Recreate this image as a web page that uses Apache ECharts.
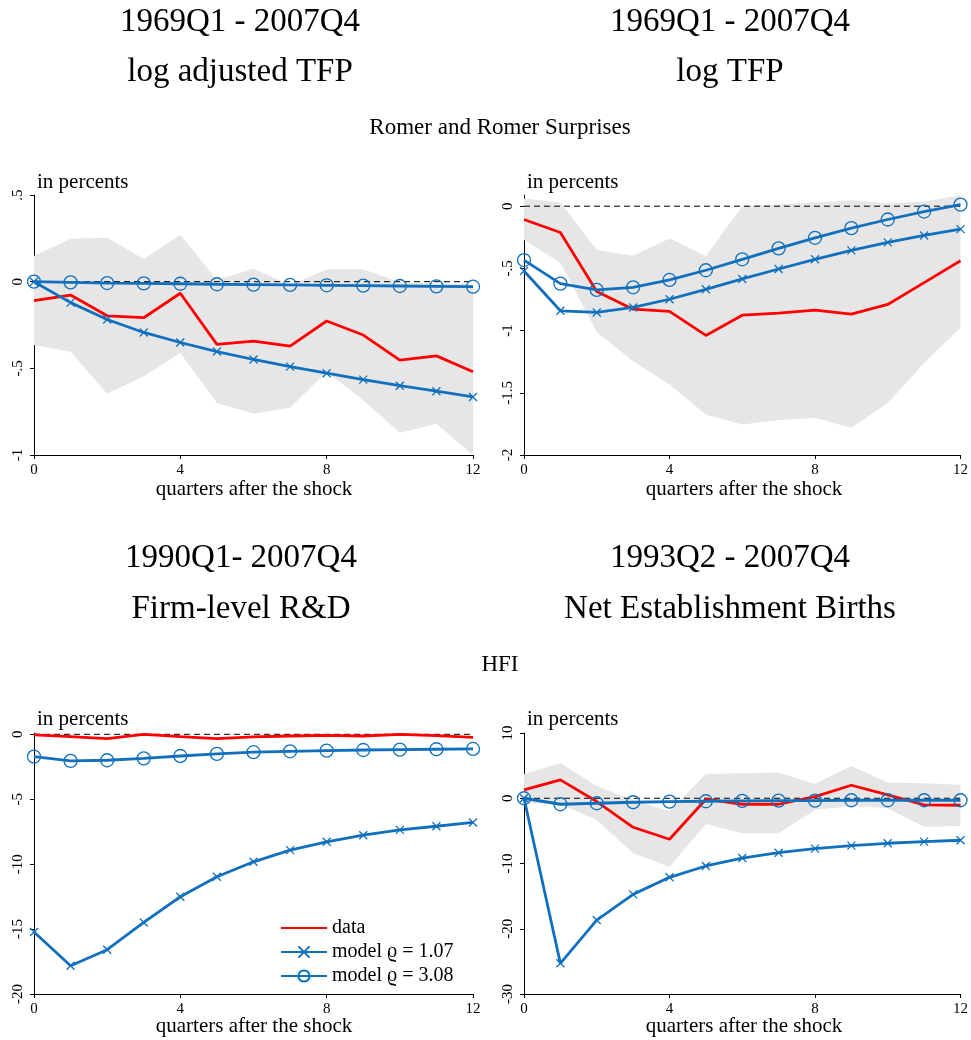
<!DOCTYPE html>
<html>
<head>
<meta charset="utf-8">
<script src="https://cdn.jsdelivr.net/npm/echarts@6/dist/echarts.min.js"></script>
<style>
  html, body { margin: 0; padding: 0; background: #fff; }
  #chart { width: 971px; height: 1040px; }
</style>
</head>
<body>
<div id="chart"></div>
<script>
// Horizon: quarters after the shock
const quarters = [0, 1, 2, 3, 4, 5, 6, 7, 8, 9, 10, 11, 12];
const xTicks = [0, 4, 8, 12];

// Log adjusted TFP, Romer and Romer surprises (1969Q1 - 2007Q4)
const adjTfpData   = [-0.11, -0.077, -0.197, -0.208, -0.067, -0.362, -0.343, -0.372, -0.227, -0.308, -0.453, -0.428, -0.52];
const adjTfpRho107 = [0, -0.121, -0.218, -0.293, -0.351, -0.403, -0.449, -0.49, -0.528, -0.565, -0.6, -0.632, -0.665];
const adjTfpRho308 = [0, -0.004, -0.008, -0.01, -0.012, -0.015, -0.017, -0.019, -0.021, -0.023, -0.025, -0.027, -0.029];
const adjTfpUpper  = [0.148, 0.247, 0.253, 0.131, 0.27, 0.01, 0.075, -0.02, 0.071, 0.071, -0.005, -0.01, -0.015];
const adjTfpLower  = [-0.366, -0.405, -0.646, -0.546, -0.411, -0.7, -0.762, -0.727, -0.52, -0.684, -0.871, -0.819, -1.0];
const adjTfpTicks  = [-1, -0.5, 0, 0.5];

// Log TFP, Romer and Romer surprises (1969Q1 - 2007Q4)
const tfpData   = [-0.107, -0.211, -0.686, -0.828, -0.846, -1.039, -0.876, -0.86, -0.836, -0.868, -0.79, -0.614, -0.438];
const tfpRho107 = [-0.521, -0.841, -0.854, -0.814, -0.748, -0.668, -0.585, -0.505, -0.427, -0.355, -0.291, -0.235, -0.184];
const tfpRho308 = [-0.433, -0.622, -0.673, -0.652, -0.593, -0.515, -0.427, -0.339, -0.254, -0.176, -0.107, -0.043, 0.013];
const tfpUpper  = [0.061, 0.029, -0.352, -0.398, -0.259, -0.4, 0.0, 0.016, 0.029, 0.048, 0.021, 0.035, 0.088];
const tfpLower  = [-0.272, -0.454, -1.012, -1.247, -1.434, -1.674, -1.754, -1.72, -1.701, -1.781, -1.581, -1.26, -0.975];
const tfpTicks  = [-2, -1.5, -1, -0.5, 0];

// Firm-level R&D, HFI (1990Q1 - 2007Q4)
const rdData   = [-0.05, -0.18, -0.33, 0.0, -0.18, -0.33, -0.2, -0.13, -0.08, -0.13, 0.0, -0.1, -0.23];
const rdRho107 = [-15.23, -17.82, -16.59, -14.49, -12.51, -10.97, -9.82, -8.92, -8.28, -7.77, -7.36, -7.08, -6.79];
const rdRho308 = [-1.72, -2.05, -2.0, -1.85, -1.67, -1.51, -1.38, -1.31, -1.26, -1.21, -1.18, -1.15, -1.13];
const rdTicks  = [-20, -15, -10, -5, 0];

// Net establishment births, HFI (1993Q2 - 2007Q4)
const birthsData   = [1.28, 2.81, -0.51, -4.45, -6.29, -0.15, -0.92, -0.92, 0.26, 1.99, 0.51, -1.02, -1.07];
const birthsRho107 = [0, -25.3, -18.67, -14.73, -12.12, -10.38, -9.16, -8.34, -7.72, -7.26, -6.9, -6.65, -6.44];
const birthsRho308 = [0, -0.92, -0.77, -0.61, -0.51, -0.46, -0.41, -0.36, -0.36, -0.31, -0.31, -0.31, -0.31];
const birthsUpper  = [3.73, 5.37, 1.89, -0.3, -2.0, 3.73, 3.84, 3.94, 2.2, 4.96, 2.4, 2.3, 2.05];
const birthsLower  = [-0.77, -0.87, -3.32, -8.44, -10.49, -3.94, -5.37, -5.37, -1.79, -1.18, -1.53, -4.35, -4.25];
const birthsTicks  = [-30, -20, -10, 0, 10];

const seriesNames = ['data', 'model \u03F1 = 1.07', 'model \u03F1 = 3.08'];

const RED = '#FF0000';
const BLUE = '#1170BE';
const BAND = '#E6E6E6';
const SERIF = '"Liberation Serif", "DejaVu Serif", serif';

// Stata-style number labels: .5, -.5, -1.5
function numLabel(v) {
  if (Math.abs(v) < 1e-9) return '0';
  return String(+v.toFixed(4)).replace(/^(-?)0\./, '$1.');
}

const panels = [
  { grid: { left: 34, top: 195, width: 439, height: 260 }, min: -1, max: 0.5, interval: 0.5, ticks: adjTfpTicks,
    data: adjTfpData, m1: adjTfpRho107, m2: adjTfpRho308, upper: adjTfpUpper, lower: adjTfpLower },
  { grid: { left: 524, top: 195, width: 439, height: 260 }, min: -2, max: 0.09, interval: 0.5, ticks: tfpTicks,
    data: tfpData, m1: tfpRho107, m2: tfpRho308, upper: tfpUpper, lower: tfpLower },
  { grid: { left: 34, top: 733, width: 439, height: 261 }, min: -20, max: 0.1, interval: 5, ticks: rdTicks,
    data: rdData, m1: rdRho107, m2: rdRho308, upper: null, lower: null },
  { grid: { left: 524, top: 733, width: 439, height: 261 }, min: -30, max: 10, interval: 10, ticks: birthsTicks,
    data: birthsData, m1: birthsRho107, m2: birthsRho308, upper: birthsUpper, lower: birthsLower }
];

const pairs = arr => quarters.map((q, i) => [q, arr[i]]);

const grids = [], xAxes = [], yAxes = [], series = [];
panels.forEach((p, idx) => {
  grids.push(Object.assign({ containLabel: false }, p.grid));
  xAxes.push({
    type: 'value', gridIndex: idx, min: 0, max: 12, interval: 4,
    axisLine: { show: true, onZero: false, lineStyle: { color: '#000', width: 1 } },
    axisTick: { show: true, length: 4, inside: false, customValues: xTicks, lineStyle: { color: '#000' } },
    axisLabel: { show: true, customValues: xTicks, margin: 8, fontFamily: SERIF, fontSize: 15, color: '#000' },
    splitLine: { show: false }
  });
  yAxes.push({
    type: 'value', gridIndex: idx, min: p.min, max: p.max, interval: p.interval,
    axisLine: { show: true, onZero: false, lineStyle: { color: '#000', width: 1 } },
    axisTick: { show: true, length: 4, inside: false, customValues: p.ticks, lineStyle: { color: '#000' } },
    axisLabel: {
      show: true, customValues: p.ticks, rotate: 90, margin: 8,
      fontFamily: SERIF, fontSize: 15, color: '#000',
      formatter: v => (p.ticks.some(t => Math.abs(t - v) < 1e-9) ? numLabel(v) : '')
    },
    splitLine: { show: false }
  });

  if (p.upper) {
    const up = p.upper, lo = p.lower;
    series.push({
      type: 'custom', xAxisIndex: idx, yAxisIndex: idx, silent: true, z: 1,
      data: [[0, 0]],
      renderItem: function (params, api) {
        const pts = [];
        for (let i = 0; i < quarters.length; i++) pts.push(api.coord([quarters[i], up[i]]));
        for (let i = quarters.length - 1; i >= 0; i--) pts.push(api.coord([quarters[i], lo[i]]));
        return { type: 'polygon', shape: { points: pts }, style: { fill: BAND } };
      }
    });
  }
  // zero reference line
  series.push({
    type: 'line', xAxisIndex: idx, yAxisIndex: idx, silent: true, z: 2,
    data: [[0, 0], [12, 0]], symbol: 'none',
    lineStyle: { color: '#000', width: 1, type: [6, 4] }
  });
  series.push({
    name: seriesNames[0], type: 'line', xAxisIndex: idx, yAxisIndex: idx, z: 3,
    data: pairs(p.data), symbol: 'none',
    itemStyle: { color: RED },
    lineStyle: { color: RED, width: 2.8 }
  });
  series.push({
    name: seriesNames[1], type: 'line', xAxisIndex: idx, yAxisIndex: idx, z: 4,
    data: pairs(p.m1), symbol: 'path://M0,0L8,8M8,0L0,8', symbolSize: 8, showAllSymbol: true,
    itemStyle: { color: 'rgba(0,0,0,0)', borderColor: BLUE, borderWidth: 1.3 },
    lineStyle: { color: BLUE, width: 2.8 }
  });
  series.push({
    name: seriesNames[2], type: 'line', xAxisIndex: idx, yAxisIndex: idx, z: 5,
    data: pairs(p.m2), symbol: 'circle', symbolSize: 13, showAllSymbol: true,
    itemStyle: { color: 'rgba(0,0,0,0)', borderColor: BLUE, borderWidth: 1.3 },
    lineStyle: { color: BLUE, width: 2.8 }
  });
});

function txt(text, x, y, size, align) {
  return {
    type: 'text', x: x, y: y, silent: true,
    style: { text: text, font: size + 'px ' + SERIF, fill: '#000', align: align || 'center', verticalAlign: 'middle' }
  };
}

const graphics = [
  txt('1969Q1 - 2007Q4', 240, 22, 33),
  txt('log adjusted TFP', 240, 72, 33),
  txt('1969Q1 - 2007Q4', 730, 22, 33),
  txt('log TFP', 730, 72, 33),
  txt('Romer and Romer Surprises', 500, 127.5, 23),
  txt('in percents', 37, 182, 21, 'left'),
  txt('in percents', 527, 182, 21, 'left'),
  txt('quarters after the shock', 254, 489, 21),
  txt('quarters after the shock', 744, 489, 21),
  txt('1990Q1- 2007Q4', 241, 558, 33),
  txt('Firm-level R&D', 241, 609, 33),
  txt('1993Q2 - 2007Q4', 730, 558, 33),
  txt('Net Establishment Births', 730, 609, 33),
  txt('HFI', 500, 665, 23),
  txt('in percents', 37, 719, 21, 'left'),
  txt('in percents', 527, 719, 21, 'left'),
  txt('quarters after the shock', 254, 1026, 21),
  txt('quarters after the shock', 744, 1026, 21)
];

const chart = echarts.init(document.getElementById('chart'), null, { renderer: 'canvas' });
chart.setOption({
  animation: false,
  backgroundColor: '#fff',
  grid: grids,
  xAxis: xAxes,
  yAxis: yAxes,
  legend: {
    data: [
      { name: seriesNames[0], itemStyle: { color: 'rgba(0,0,0,0)', borderColor: 'rgba(0,0,0,0)', borderWidth: 0 } },
      { name: seriesNames[1] },
      { name: seriesNames[2] }
    ],
    orient: 'vertical', left: 275, top: 913,
    itemWidth: 46, itemHeight: 14, itemGap: 4, selectedMode: false,
    textStyle: { fontFamily: SERIF, fontSize: 20, color: '#000' }
  },
  graphic: graphics,
  series: series
});
</script>
</body>
</html>
